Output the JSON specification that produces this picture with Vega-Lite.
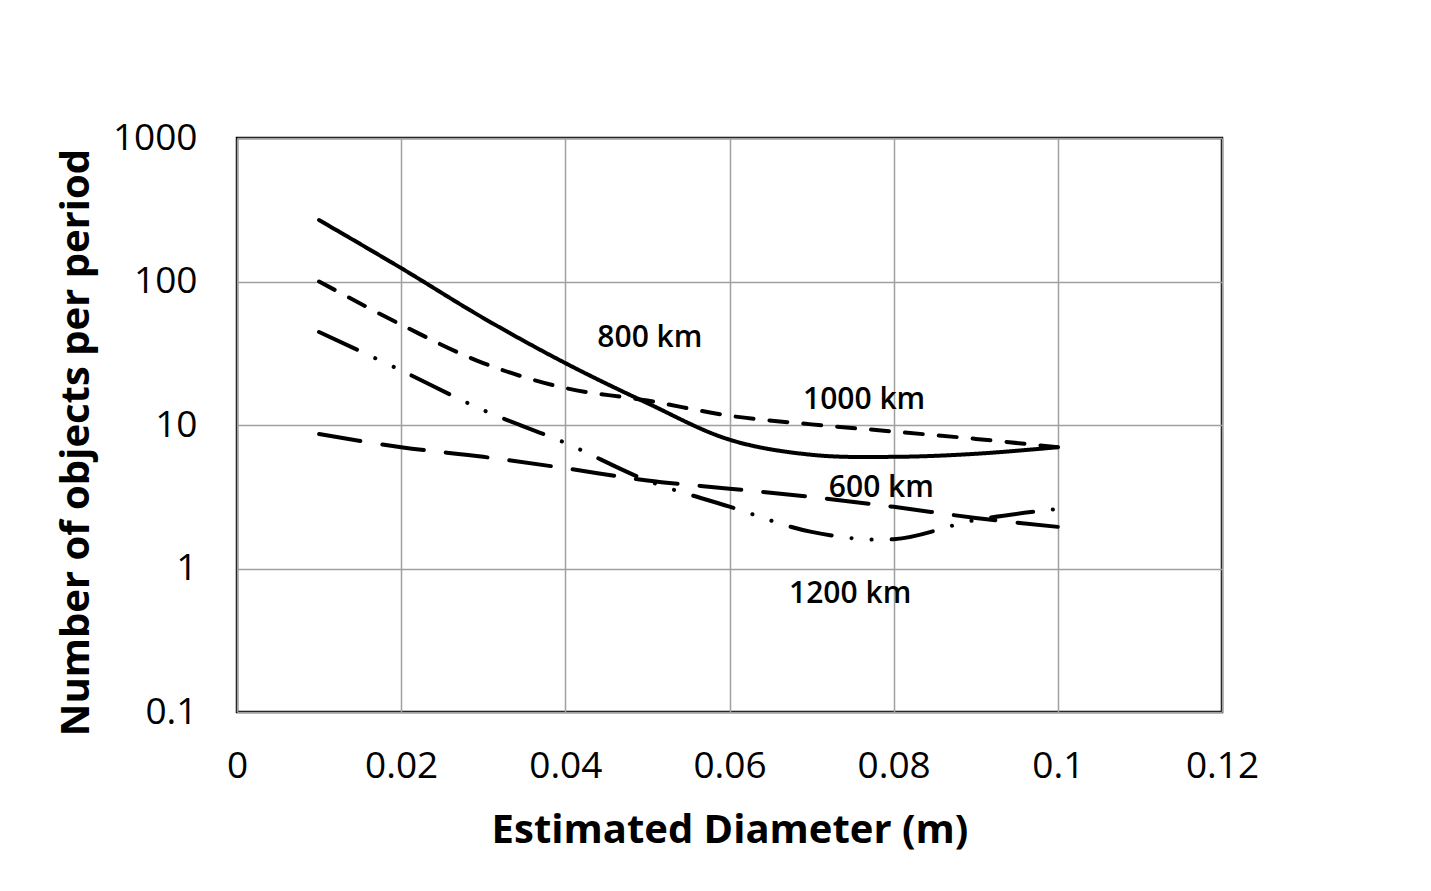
{
  "$schema": "https://vega.github.io/schema/vega-lite/v6.json",
  "autosize": "none",
  "width": 985,
  "height": 574,
  "padding": {"left": 237, "top": 138, "right": 209, "bottom": 179},
  "background": "white",
  "config": {
    "view": {"stroke": "black", "strokeWidth": 2.5},
    "font": "Open Sans"
  },
  "layer": [
    {
      "data": {
        "values": [
          {"series": "800 km", "d": 0.01, "n": 268},
          {"series": "800 km", "d": 0.02, "n": 124},
          {"series": "800 km", "d": 0.03, "n": 55.7},
          {"series": "800 km", "d": 0.04, "n": 27},
          {"series": "800 km", "d": 0.05, "n": 14.2},
          {"series": "800 km", "d": 0.06, "n": 7.9},
          {"series": "800 km", "d": 0.07, "n": 6.2},
          {"series": "800 km", "d": 0.08, "n": 6.0},
          {"series": "800 km", "d": 0.09, "n": 6.3},
          {"series": "800 km", "d": 0.1, "n": 7.0},
          {"series": "1000 km", "d": 0.01, "n": 100},
          {"series": "1000 km", "d": 0.02, "n": 50},
          {"series": "1000 km", "d": 0.03, "n": 27},
          {"series": "1000 km", "d": 0.04, "n": 18.1},
          {"series": "1000 km", "d": 0.05, "n": 14.8},
          {"series": "1000 km", "d": 0.06, "n": 11.6},
          {"series": "1000 km", "d": 0.07, "n": 10.1},
          {"series": "1000 km", "d": 0.08, "n": 9.0},
          {"series": "1000 km", "d": 0.09, "n": 8.0},
          {"series": "1000 km", "d": 0.1, "n": 7.0},
          {"series": "600 km", "d": 0.01, "n": 8.65},
          {"series": "600 km", "d": 0.02, "n": 7.0},
          {"series": "600 km", "d": 0.03, "n": 6.0},
          {"series": "600 km", "d": 0.04, "n": 5.0},
          {"series": "600 km", "d": 0.05, "n": 4.1},
          {"series": "600 km", "d": 0.06, "n": 3.6},
          {"series": "600 km", "d": 0.07, "n": 3.15},
          {"series": "600 km", "d": 0.08, "n": 2.69},
          {"series": "600 km", "d": 0.09, "n": 2.25},
          {"series": "600 km", "d": 0.1, "n": 1.95},
          {"series": "1200 km", "d": 0.01, "n": 44.5},
          {"series": "1200 km", "d": 0.02, "n": 24},
          {"series": "1200 km", "d": 0.03, "n": 12.7},
          {"series": "1200 km", "d": 0.04, "n": 7.5},
          {"series": "1200 km", "d": 0.05, "n": 4.1},
          {"series": "1200 km", "d": 0.06, "n": 2.7},
          {"series": "1200 km", "d": 0.07, "n": 1.8},
          {"series": "1200 km", "d": 0.08, "n": 1.6},
          {"series": "1200 km", "d": 0.09, "n": 2.18},
          {"series": "1200 km", "d": 0.1, "n": 2.6}
        ]
      },
      "mark": {"type": "line", "interpolate": "catmull-rom", "color": "black", "strokeWidth": 4, "strokeCap": "round"},
      "encoding": {
        "x": {
          "field": "d", "type": "quantitative",
          "scale": {"domain": [0, 0.12], "nice": false},
          "axis": {
            "values": [0, 0.02, 0.04, 0.06, 0.08, 0.1, 0.12],
            "format": "~g",
            "title": "Estimated Diameter (m)",
            "titleFont": "Open Sans", "titleFontSize": 40, "titleFontWeight": "bold", "titleColor": "black",
            "titlePadding": 26,
            "labelFont": "Open Sans", "labelFontSize": 37, "labelColor": "black", "labelPadding": 36,
            "labelFlush": false, "labelOverlap": false,
            "ticks": false, "domain": false,
            "grid": true, "gridColor": "#a0a0a0", "gridWidth": 1.5
          }
        },
        "y": {
          "field": "n", "type": "quantitative",
          "scale": {"type": "log", "domain": [0.1, 1000], "nice": false},
          "axis": {
            "values": [0.1, 1, 10, 100, 1000],
            "format": "~g",
            "title": "Number of objects per period",
            "titleFont": "Open Sans", "titleFontSize": 40, "titleFontWeight": "bold", "titleColor": "black",
            "titlePadding": 16, "titleY": 304,
            "labelFont": "Open Sans", "labelFontSize": 37, "labelColor": "black", "labelPadding": 40,
            "labelFlush": false, "labelOverlap": false,
            "ticks": false, "domain": false,
            "grid": true, "gridColor": "#a0a0a0", "gridWidth": 1.5
          }
        },
        "detail": {"field": "series"},
        "strokeDash": {
          "field": "series", "type": "nominal",
          "scale": {
            "domain": ["800 km", "1000 km", "600 km", "1200 km"],
            "range": [[1, 0], [18, 16], [42, 22], [42, 20, 0.1, 20, 0.1, 20]]
          },
          "legend": null
        }
      }
    },
    {
      "data": {
        "values": [
          {"label": "800 km", "d": 0.0503, "n": 40.4},
          {"label": "1000 km", "d": 0.0764, "n": 14.9},
          {"label": "600 km", "d": 0.0785, "n": 3.64},
          {"label": "1200 km", "d": 0.0747, "n": 0.664}
        ]
      },
      "mark": {"type": "text", "font": "Open Sans", "fontSize": 30, "fontWeight": 600, "color": "black", "align": "center", "baseline": "middle"},
      "encoding": {
        "x": {"field": "d", "type": "quantitative"},
        "y": {"field": "n", "type": "quantitative"},
        "text": {"field": "label"}
      }
    }
  ]
}
